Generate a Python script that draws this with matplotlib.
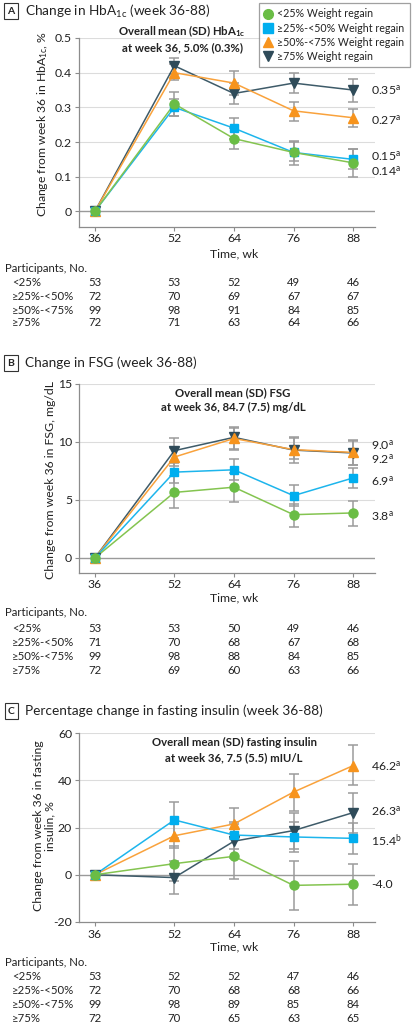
import matplotlib
matplotlib.use('Agg')
import matplotlib.pyplot as plt
import matplotlib.transforms as mtrans
from matplotlib.lines import Line2D
import numpy as np

plt.rcParams['font.family'] = ['Lato', 'DejaVu Sans']
plt.rcParams['mathtext.fontset'] = 'custom'
plt.rcParams['mathtext.rm'] = 'Lato'
plt.rcParams['mathtext.it'] = 'Lato'
plt.rcParams['mathtext.bf'] = 'Lato:bold'

nan = np.nan
weeks = [36, 52, 64, 76, 88]
groups = ['<25%', '≥25%-<50%', '≥50%-<75%', '≥75%']
legend_labels = ['<25% Weight regain', '≥25%-<50% Weight regain',
                 '≥50%-<75% Weight regain', '≥75% Weight regain']

# Panel A: HbA1c change
a_mean = [[0, 0.31, 0.21, 0.17, 0.14],
          [0, 0.30, 0.24, 0.17, 0.15],
          [0, 0.40, 0.37, 0.29, 0.27],
          [0, 0.42, 0.34, 0.37, 0.35]]
a_low = [[nan, 0.275, 0.181, 0.135, 0.099],
         [nan, 0.274, 0.21, 0.144, 0.121],
         [nan, 0.378, 0.335, 0.262, 0.243],
         [nan, 0.396, 0.31, 0.342, 0.316]]
a_high = [[nan, 0.344, 0.24, 0.20, 0.18],
          [nan, 0.325, 0.269, 0.204, 0.18],
          [nan, 0.425, 0.405, 0.315, 0.295],
          [nan, 0.443, 0.37, 0.40, 0.381]]
a_end_labels = ['0.14$^\\mathregular{a}$', '0.15$^\\mathregular{a}$',
                '0.27$^\\mathregular{a}$', '0.35$^\\mathregular{a}$']
a_end_pos = [0.116, 0.159, 0.264, 0.349]
a_counts = [[53, 53, 52, 49, 46],
            [72, 70, 69, 67, 67],
            [99, 98, 91, 84, 85],
            [72, 71, 63, 64, 66]]

# Panel B: FSG change
b_mean = [[0, 5.65, 6.1, 3.73, 3.88],
          [0, 7.4, 7.6, 5.37, 6.9],
          [0, 8.7, 10.3, 9.34, 9.1],
          [0, 9.25, 10.4, 9.3, 9.05]]
b_low = [[nan, 4.34, 4.85, 2.67, 2.72],
         [nan, 6.5, 6.7, 4.45, 6.03],
         [nan, 7.9, 9.3, 8.53, 8.04],
         [nan, 8.2, 9.4, 8.2, 8.05]]
b_high = [[nan, 7.1, 7.3, 4.68, 4.94],
          [nan, 8.3, 8.5, 6.32, 7.76],
          [nan, 9.5, 11.2, 10.3, 10.2],
          [nan, 10.35, 11.3, 10.4, 10.05]]
b_end_labels = ['3.8$^\\mathregular{a}$', '6.9$^\\mathregular{a}$',
                '9.2$^\\mathregular{a}$', '9.0$^\\mathregular{a}$']
b_end_pos = [3.6, 6.6, 8.55, 9.75]
b_counts = [[53, 53, 50, 49, 46],
            [71, 70, 68, 67, 68],
            [99, 98, 88, 84, 85],
            [72, 69, 60, 63, 66]]

# Panel C: fasting insulin % change
c_mean = [[0, 4.7, 7.8, -4.5, -4.0],
          [0, 23.2, 16.8, 16.0, 15.4],
          [0, 16.5, 21.5, 35.0, 46.2],
          [0, -1.2, 14.2, 18.7, 26.3]]
c_low = [[nan, -2.5, -2.0, -15.0, -12.8],
         [nan, 15.5, 11.0, 9.8, 8.8],
         [nan, 11.5, 15.0, 27.0, 37.8],
         [nan, -8.2, 7.0, 11.0, 17.7]]
c_high = [[nan, 12.0, 17.5, 5.8, 4.5],
          [nan, 31.0, 22.5, 22.3, 22.0],
          [nan, 21.5, 28.3, 42.7, 54.8],
          [nan, 5.8, 21.5, 26.3, 34.8]]
c_end_labels = ['-4.0', '15.4$^\\mathregular{b}$', '46.2$^\\mathregular{a}$', '26.3$^\\mathregular{a}$']
c_end_pos = [-4.3, 14.5, 46.0, 26.9]
c_counts = [[53, 52, 52, 47, 46],
            [72, 70, 68, 68, 66],
            [99, 98, 89, 85, 84],
            [72, 70, 65, 63, 65]]

line_colors = ['#84c450', '#1db5ec', '#f9a23c', '#3e5b69']
marker_colors = ['#6abd45', '#00aeef', '#f7941d', '#2f4b59']
markers = ['o', 's', '^', 'v']
msizes = [6.5, 6.0, 6.5, 6.5]
draw_order = [3, 2, 1, 0]

W, H = 413, 1024
fig = plt.figure(figsize=(W / 100, H / 100), dpi=100)


def fx(px):
    return px / W


def fy(py):
    return 1 - py / H


TXT = '#222222'
GRID = '#dcdcdc'
SPINE = '#8c8c8c'
FS_TICK = 8.8
FS_TAB = 8.2

panels = [
    dict(letter='A', title='Change in HbA$_\\mathregular{1c}$ (week 36-88)', title_y=11,
         top=38, bottom=227, ylim=(-0.045, 0.5), yticks=[0, 0.1, 0.2, 0.3, 0.4, 0.5],
         ytl=['0', '0.1', '0.2', '0.3', '0.4', '0.5'],
         ylabel='Change from week 36 in HbA$_\\mathregular{1c}$, %', ylab_xy=(-0.098, 0.545),
         note='Overall mean (SD) HbA$_\\mathregular{1c}$\nat week 36, 5.0% (0.3%)', note_xy=(182, 38),
         mean=a_mean, low=a_low, high=a_high, endl=a_end_labels, endp=a_end_pos,
         counts=a_counts, xt_y=239, time_y=254, part_y=268, rows_y=[282, 296, 310, 323]),
    dict(letter='B', title='Change in FSG (week 36-88)', title_y=363,
         top=384, bottom=573, ylim=(-1.3, 15), yticks=[0, 5, 10, 15],
         ytl=['0', '5', '10', '15'],
         ylabel='Change from week 36 in FSG, mg/dL', ylab_xy=(-0.078, 0.49),
         note='Overall mean (SD) FSG\nat week 36, 84.7 (7.5) mg/dL', note_xy=(233, 400),
         mean=b_mean, low=b_low, high=b_high, endl=b_end_labels, endp=b_end_pos,
         counts=b_counts, xt_y=585, time_y=598, part_y=613, rows_y=[628, 642, 656, 670]),
    dict(letter='C', title='Percentage change in fasting insulin (week 36-88)', title_y=711,
         top=733, bottom=922, ylim=(-20, 60), yticks=[-20, 0, 20, 40, 60],
         ytl=['-20', '0', '20', '40', '60'],
         ylabel='Change from week 36 in fasting\ninsulin, %', ylab_xy=(-0.078, 0.51),
         note='Overall mean (SD) fasting insulin\nat week 36, 7.5 (5.5) mIU/L', note_xy=(234, 750),
         mean=c_mean, low=c_low, high=c_high, endl=c_end_labels, endp=c_end_pos,
         counts=c_counts, xt_y=934, time_y=947, part_y=963, rows_y=[976, 990, 1004, 1018]),
]

L, R = 79, 375
for p in panels:
    ax = fig.add_axes([fx(L), fy(p['bottom']), fx(R) - fx(L), (p['bottom'] - p['top']) / H])
    ax.set_xlim(32.8, 92.4)
    ax.set_ylim(*p['ylim'])
    for s in ['top', 'right']:
        ax.spines[s].set_visible(False)
    for s in ['left', 'bottom']:
        ax.spines[s].set_color(SPINE)
        ax.spines[s].set_linewidth(0.9)
    ax.set_yticks(p['yticks'])
    ax.set_yticklabels(p['ytl'])
    ax.set_xticks(weeks)
    ax.set_xticklabels([])
    ax.tick_params(axis='both', colors=SPINE, labelcolor=TXT, labelsize=FS_TICK, length=3, width=0.8)
    ax.tick_params(axis='y', pad=2)
    for t in p['yticks']:
        if t == 0:
            ax.axhline(0, color='#9a9a9a', lw=1.0, zorder=1)
        elif t != p['ylim'][0]:
            ax.axhline(t, color=GRID, lw=0.8, zorder=0)
    ax.set_ylabel(p['ylabel'], fontsize=FS_TICK, color=TXT, linespacing=1.05)
    ax.yaxis.set_label_coords(*p['ylab_xy'])

    for gi in draw_order:
        m = np.array(p['mean'][gi], dtype=float)
        lo = np.array(p['low'][gi], dtype=float)
        hi = np.array(p['high'][gi], dtype=float)
        mask = ~np.isnan(lo)
        xs = np.array(weeks)[mask]
        eb = ax.errorbar(xs, m[mask], yerr=[m[mask] - lo[mask], hi[mask] - m[mask]],
                         fmt='none', ecolor='#9b9b9b', elinewidth=1.1, capsize=3.5,
                         capthick=1.1, zorder=2)
        for cl in eb[1]:
            cl.set_color(marker_colors[gi])
        ax.plot(weeks, m, color=line_colors[gi], lw=1.1, zorder=3)
        ax.plot(weeks, m, linestyle='none', marker=markers[gi], ms=msizes[gi],
                color=marker_colors[gi], mec=marker_colors[gi], zorder=4)

    for lab, pos in zip(p['endl'], p['endp']):
        ax.text(fx(371), pos, lab, transform=mtrans.blended_transform_factory(fig.transFigure, ax.transData),
                fontsize=FS_TICK, color=TXT, ha='left', va='center')

    ax.text(fx(p['note_xy'][0]), fy(p['note_xy'][1]), p['note'], transform=fig.transFigure,
            ha='center', va='center', fontsize=8.2, color=TXT, fontweight='bold', linespacing=1.4)

    # panel title
    fig.text(fx(11), fy(p['title_y']), p['letter'], ha='center', va='center', fontsize=7.5,
             fontweight='bold', color=TXT,
             bbox=dict(boxstyle='square,pad=0.3', fc='white', ec='#333333', lw=0.8))
    fig.text(fx(25), fy(p['title_y']), p['title'], ha='left', va='center', fontsize=9.8, color=TXT)

    bt = mtrans.blended_transform_factory(ax.transData, fig.transFigure)
    for w in weeks:
        ax.text(w, fy(p['xt_y']), str(w), transform=bt, ha='center', va='center',
                fontsize=FS_TICK, color=TXT)
    ax.text(64, fy(p['time_y']), 'Time, wk', transform=bt, ha='center', va='center',
            fontsize=FS_TICK, color=TXT)
    fig.text(fx(5), fy(p['part_y']), 'Participants, No.', ha='left', va='center',
             fontsize=FS_TAB, color=TXT)
    for gi, ry in enumerate(p['rows_y']):
        fig.text(fx(12), fy(ry), groups[gi], ha='left', va='center', fontsize=FS_TAB, color=TXT)
        for w, n in zip(weeks, p['counts'][gi]):
            ax.text(w, fy(ry), str(n), transform=bt, ha='center', va='center',
                    fontsize=FS_TAB, color=TXT)

handles = [Line2D([], [], linestyle='none', marker=markers[i], ms=msizes[i] + 0.5,
                  color=marker_colors[i]) for i in range(4)]
leg = fig.legend(handles, legend_labels, loc='upper right', bbox_to_anchor=(fx(410), fy(3)),
                 frameon=True, fancybox=False, fontsize=7.7, handlelength=0.7, handletextpad=0.5,
                 borderpad=0.5, labelspacing=0.3, borderaxespad=0)
leg.get_frame().set_edgecolor('#888888')
leg.get_frame().set_linewidth(0.9)
for t in leg.get_texts():
    t.set_color(TXT)

fig.savefig('out.png', dpi=100)
